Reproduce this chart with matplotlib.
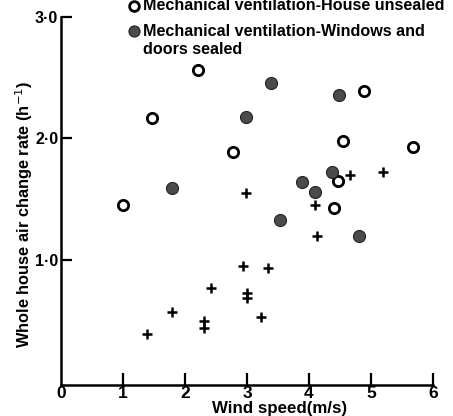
import matplotlib
matplotlib.use("Agg")
import matplotlib.pyplot as plt

plt.rcParams['font.family'] = ['Liberation Sans', 'DejaVu Sans']

# Mechanical ventilation - house unsealed (open circles)
unsealed_x = [1.0, 1.47, 2.21, 2.77, 4.89, 4.55, 5.68, 4.47, 4.40]
unsealed_y = [1.45, 2.17, 2.56, 1.89, 2.39, 1.98, 1.93, 1.65, 1.43]

# Mechanical ventilation - windows and doors sealed (filled circles)
sealed_x = [3.39, 2.98, 4.48, 1.79, 4.37, 3.89, 4.10, 3.53, 4.81]
sealed_y = [2.46, 2.18, 2.36, 1.59, 1.72, 1.64, 1.56, 1.33, 1.20]

# third series (crosses)
cross_x = [2.98, 4.10, 4.13, 4.66, 5.19, 2.93, 3.34, 2.42, 3.00, 3.00,
           1.79, 2.31, 2.31, 3.23, 1.39]
cross_y = [1.55, 1.45, 1.20, 1.70, 1.72, 0.95, 0.93, 0.77, 0.73, 0.69,
           0.57, 0.50, 0.44, 0.53, 0.39]

x_ticks = [0, 1, 2, 3, 4, 5, 6]
y_ticks = [1, 2, 3]
y_labels = ['1·0', '2·0', '3·0']

W, H = 453, 416
fig = plt.figure(figsize=(W / 100, H / 100), dpi=100)
ax = fig.add_axes([61 / W, 31 / H, 372 / W, 368 / H])

ax.scatter(unsealed_x, unsealed_y, s=55, facecolors='white', edgecolors='black',
           linewidths=2, zorder=3)
ax.scatter(sealed_x, sealed_y, s=75, color='#4a4a4a', edgecolors='#222222',
           linewidths=0.8, zorder=3)
ax.scatter(cross_x, cross_y, s=60, marker='+', color='black', linewidths=1.8,
           zorder=3)

ax.set_xlim(0, 6)
ax.set_ylim(-0.03, 3.0)

for side in ['top', 'right']:
    ax.spines[side].set_visible(False)
ax.spines['left'].set_linewidth(1.8)
ax.spines['bottom'].set_linewidth(1.8)

ax.set_xticks(x_ticks)
ax.set_xticklabels([str(v) for v in x_ticks], fontsize=12.5, fontweight='bold')
ax.tick_params(axis='x', direction='in', length=9, width=1.6, pad=1)
ax.xaxis.get_major_ticks()[0].tick1line.set_visible(False)

ax.set_yticks(y_ticks)
ax.set_yticklabels(y_labels, fontsize=11.5, fontweight='bold')
ax.tick_params(axis='y', direction='in', length=8, width=1.6, pad=2)

ax.set_xlabel('Wind speed(m/s)', fontsize=12.2, fontweight='bold')
ax.xaxis.set_label_coords((280 - 61) / 372, (385 - 409) / 368)
ax.xaxis.label.set_va('center')
ax.set_ylabel('Whole house air change rate (h$^{-1}$)', fontsize=11.8,
              fontweight='bold')
ax.yaxis.set_label_coords((24 - 61) / 372, (385 - 214) / 368)
ax.yaxis.label.set_va('center')

# legend drawn as text like the original
ax.plot([134 / W], [1 - 6 / H], marker='o', markersize=7, markerfacecolor='white',
        markeredgecolor='black', markeredgewidth=2, linestyle='none',
        transform=fig.transFigure, clip_on=False)
fig.text(143 / W, 1 - 6 / H, 'Mechanical ventilation-House unsealed',
         fontsize=11.6, fontweight='bold', ha='left', va='center')
ax.plot([134 / W], [1 - 31 / H], marker='o', markersize=8, color='#4a4a4a',
        markeredgecolor='#222222', markeredgewidth=0.8, linestyle='none',
        transform=fig.transFigure, clip_on=False)
fig.text(143 / W, 1 - 31 / H, 'Mechanical ventilation-Windows and',
         fontsize=11.6, fontweight='bold', ha='left', va='center')
fig.text(143 / W, 1 - 50 / H, 'doors sealed',
         fontsize=11.6, fontweight='bold', ha='left', va='center')

fig.savefig('out.png', dpi=100)
